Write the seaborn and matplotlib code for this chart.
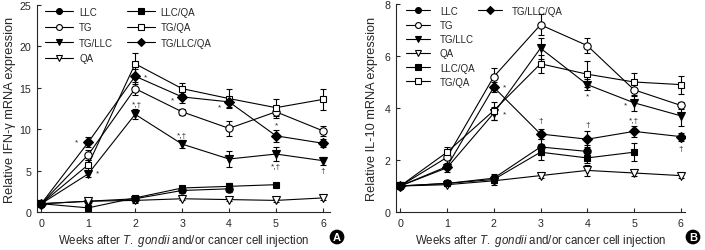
import numpy as np
import pandas as pd
import matplotlib
matplotlib.use("Agg")
import matplotlib.pyplot as plt
import seaborn as sns
from matplotlib.lines import Line2D

weeks = [0, 1, 2, 3, 4, 5, 6]
groups = ["LLC", "TG", "TG/LLC", "QA", "LLC/QA", "TG/QA", "TG/LLC/QA"]

# Panel A: IFN-gamma
ifn = {
    "LLC":       [1.0, 1.3, 1.6, 2.6, 2.8],
    "TG":        [1.0, 6.9, 14.9, 12.1, 10.1, 12.1, 9.8],
    "TG/LLC":    [1.0, 4.6, 11.8, 8.2, 6.4, 7.0, 6.2],
    "QA":        [1.0, 1.3, 1.4, 1.6, 1.5, 1.4, 1.7],
    "LLC/QA":    [1.0, 0.5, 1.7, 2.9, 3.1, 3.3],
    "TG/QA":     [1.0, 5.7, 17.9, 14.9, 13.7, 12.6, 13.6],
    "TG/LLC/QA": [1.0, 8.4, 16.4, 13.9, 13.3, 9.2, 8.3],
}
ifn_err = {
    "LLC":       [0.1, 0.1, 0.2, 0.3, 0.4],
    "TG":        [0.1, 0.6, 0.8, 0.4, 0.9, 0.7, 0.6],
    "TG/LLC":    [0.1, 0.4, 0.6, 0.5, 1.0, 0.8, 0.5],
    "QA":        [0.1, 0.1, 0.3, 0.2, 0.2, 0.2, 0.2],
    "LLC/QA":    [0.1, 0.1, 0.2, 0.3, 0.4, 0.2],
    "TG/QA":     [0.1, 0.6, 1.3, 0.7, 1.1, 1.0, 1.3],
    "TG/LLC/QA": [0.1, 0.6, 0.9, 0.7, 0.6, 0.7, 0.5],
}
# Panel B: IL-10
il10 = {
    "LLC":       [1.0, 1.1, 1.3, 2.5, 2.33],
    "TG":        [1.0, 2.1, 5.2, 7.2, 6.4, 4.7, 4.1],
    "TG/LLC":    [1.0, 1.7, 3.8, 6.3, 4.9, 4.2, 3.7],
    "QA":        [1.0, 1.05, 1.2, 1.4, 1.6, 1.5, 1.4],
    "LLC/QA":    [1.0, 1.1, 1.25, 2.3, 2.08, 2.3],
    "TG/QA":     [1.0, 2.3, 3.9, 5.7, 5.3, 5.0, 4.9],
    "TG/LLC/QA": [1.0, 1.75, 4.8, 3.0, 2.8, 3.1, 2.9],
}
il10_err = {
    "LLC":       [0.05, 0.05, 0.15, 0.3, 0.25],
    "TG":        [0.05, 0.2, 0.35, 0.4, 0.3, 0.25, 0.15],
    "TG/LLC":    [0.05, 0.15, 0.25, 0.4, 0.2, 0.3, 0.4],
    "QA":        [0.05, 0.05, 0.15, 0.1, 0.2, 0.1, 0.1],
    "LLC/QA":    [0.05, 0.05, 0.15, 0.3, 0.2, 0.35],
    "TG/QA":     [0.05, 0.2, 0.35, 0.35, 0.5, 0.35, 0.35],
    "TG/LLC/QA": [0.05, 0.1, 0.2, 0.2, 0.3, 0.2, 0.15],
}

ann_a_x = [0.76, 1.2, 2.23, 2.04, 2.8, 3.0, 3.8, 4.0, 5.0, 5.0, 6.0]
ann_a_y = [8.5, 4.7, 16.3, 13.0, 13.5, 9.2, 12.7, 6.6, 10.5, 5.5, 5.0]
ann_a_t = ["*", "*", "*", "*,†", "*", "*,†", "*", "*,†", "*", "*,†", "†"]
ann_b_x = [2.22, 2.22, 3.0, 4.0, 4.0, 4.81, 5.0, 6.0]
ann_b_y = [4.83, 3.78, 3.5, 3.35, 4.46, 4.13, 3.5, 2.43]
ann_b_t = ["*", "*", "†", "†", "*", "*", "*,†", "†"]

markers = {"LLC": "o", "TG": "o", "TG/LLC": "v", "QA": "v",
           "LLC/QA": "s", "TG/QA": "s", "TG/LLC/QA": "D"}
filled = {"LLC": True, "TG": False, "TG/LLC": True, "QA": False,
          "LLC/QA": True, "TG/QA": False, "TG/LLC/QA": True}
msize = {"LLC": 5.3, "TG": 5.3, "TG/LLC": 5.8, "QA": 5.8,
         "LLC/QA": 4.6, "TG/QA": 4.6, "TG/LLC/QA": 4.6}

sns.set_theme(style="ticks")
plt.rcParams['font.family'] = ['Liberation Sans', 'DejaVu Sans']
plt.rcParams['mathtext.fontset'] = 'custom'
plt.rcParams['mathtext.rm'] = 'Liberation Sans'
plt.rcParams['mathtext.it'] = 'Liberation Sans:italic'

fig = plt.figure(figsize=(7.05, 2.51), dpi=100)
axA = fig.add_axes([37/705, 1 - 213/251, (330 - 37)/705, (213 - 6)/251])
axB = fig.add_axes([396/705, 1 - 213/251, (685 - 396)/705, (213 - 5)/251])


def draw(ax, data, err):
    handles = {}
    for g in groups:
        y = data[g]
        x = weeks[:len(y)]
        ax.errorbar(x, y, yerr=err[g], fmt='none', ecolor='black',
                    elinewidth=0.8, capsize=2.2, capthick=0.8, zorder=2)
        sns.lineplot(x=x, y=y, ax=ax, color='black', linewidth=0.8,
                     marker=markers[g], markersize=msize[g],
                     markerfacecolor='black' if filled[g] else 'white',
                     markeredgecolor='black', markeredgewidth=0.8,
                     zorder=3, legend=False)
        handles[g] = Line2D([], [], color='black', linewidth=0.8,
                            marker=markers[g], markersize=msize[g] * 0.8,
                            markerfacecolor='black' if filled[g] else 'white',
                            markeredgecolor='black', markeredgewidth=0.8)
    ax.set_xlim(-0.09, 6.15)
    ax.set_xticks(weeks)
    ax.tick_params(axis='both', labelsize=7.7, width=0.8, length=3,
                   direction='in', pad=4)
    for s in ['top', 'right']:
        ax.spines[s].set_visible(False)
    for s in ['left', 'bottom']:
        ax.spines[s].set_linewidth(0.8)
    ax.set_xlabel(r"Weeks after $\it{T.}$ $\it{gondii}$ and/or cancer cell injection",
                  fontsize=8.3, labelpad=3)
    return handles


hA = draw(axA, ifn, ifn_err)
axA.set_ylim(0, 25)
axA.set_yticks([0, 5, 10, 15, 20, 25])
axA.set_ylabel("Relative IFN-γ mRNA expression", fontsize=9.2, labelpad=3)
axA.legend([hA[g] for g in groups], groups, ncol=2, frameon=False,
           loc='upper left', fontsize=7, borderaxespad=0,
           bbox_to_anchor=(0.014, 1.01), handlelength=2.9,
           handletextpad=0.6, columnspacing=1.4, labelspacing=0.56)

hB = draw(axB, il10, il10_err)
axB.set_xlim(-0.09, 6.09)
axB.set_ylim(0, 8)
axB.set_yticks([0, 2, 4, 6, 8])
axB.set_ylabel("Relative IL-10 mRNA expression", fontsize=9.2, labelpad=5)
legB1 = axB.legend([hB[g] for g in groups[:6]], groups[:6], frameon=False,
                   loc='upper left', fontsize=7, borderaxespad=0,
                   bbox_to_anchor=(0.021, 1.01), handlelength=2.5,
                   handletextpad=1.0, labelspacing=0.43)
axB.add_artist(legB1)
axB.legend([hB["TG/LLC/QA"]], ["TG/LLC/QA"], frameon=False,
           loc='upper left', fontsize=7, borderaxespad=0,
           bbox_to_anchor=(0.27, 1.01), handlelength=2.5,
           handletextpad=1.0)

for x, y, t in zip(ann_a_x, ann_a_y, ann_a_t):
    axA.text(x, y, t, fontsize=6, ha='center', va='center', zorder=4)
for x, y, t in zip(ann_b_x, ann_b_y, ann_b_t):
    axB.text(x, y, t, fontsize=6, ha='center', va='center', zorder=4)

for xp, lab in [(337, "A"), (693, "B")]:
    fig.text(xp / 705, 1 - 238 / 251, lab, color='white', fontsize=8,
             fontweight='bold', ha='center', va='center',
             bbox=dict(boxstyle='circle,pad=0.15', fc='black', ec='black'))

fig.savefig("out.png", dpi=100)
